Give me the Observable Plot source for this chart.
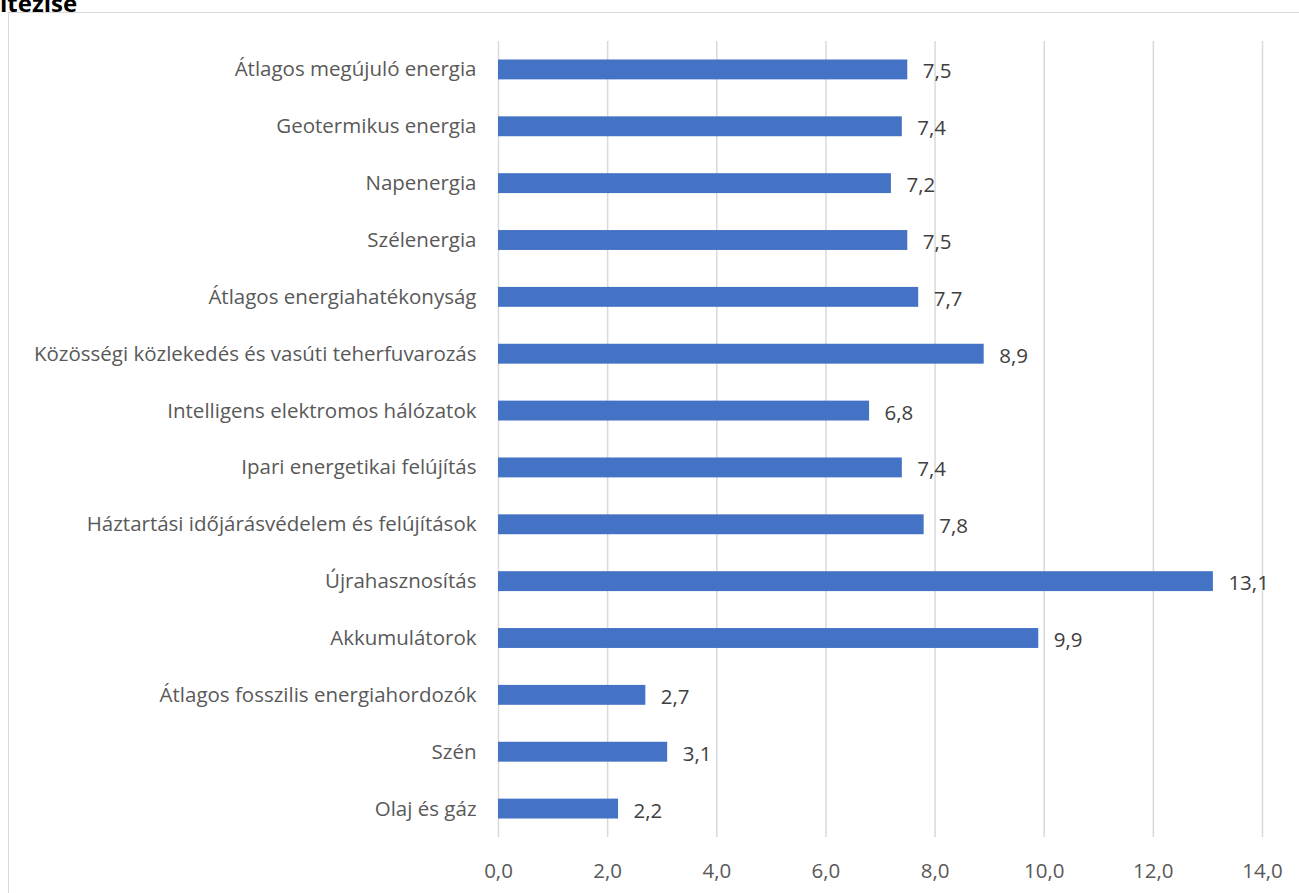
<!DOCTYPE html>
<html>
<head>
<meta charset="utf-8">
<script src="https://cdn.jsdelivr.net/npm/d3@7"></script>
<script src="https://cdn.jsdelivr.net/npm/@observablehq/plot@0.6"></script>
<style>
  html, body { margin: 0; padding: 0; background: #fff; }
  #wrap { position: relative; width: 1299px; height: 893px; overflow: hidden; font-family: "Open Sans", sans-serif; }
  #title { position: absolute; left: 0; top: -14px; font-size: 24px; font-weight: bold; color: #000; font-family: "Open Sans", sans-serif; }
  #frame { position: absolute; left: 8px; top: 12px; width: 1400px; height: 1000px; border: 1.5px solid #d9d9d9; box-sizing: border-box; }
  #chart { position: absolute; left: 0; top: 0; }
</style>
</head>
<body>
<div id="wrap">
  <div id="title">itezise</div>
  <div id="frame"></div>
  <div id="chart"></div>
</div>
<script>
const categories = [
  "Átlagos megújuló energia",
  "Geotermikus energia",
  "Napenergia",
  "Szélenergia",
  "Átlagos energiahatékonyság",
  "Közösségi közlekedés és vasúti teherfuvarozás",
  "Intelligens elektromos hálózatok",
  "Ipari energetikai felújítás",
  "Háztartási időjárásvédelem és felújítások",
  "Újrahasznosítás",
  "Akkumulátorok",
  "Átlagos fosszilis energiahordozók",
  "Szén",
  "Olaj és gáz"
];
const values = [7.5, 7.4, 7.2, 7.5, 7.7, 8.9, 6.8, 7.4, 7.8, 13.1, 9.9, 2.7, 3.1, 2.2];
const xTicks = [0, 2, 4, 6, 8, 10, 12, 14];

const data = categories.map((c, i) => ({category: c, value: values[i]}));
const fmt = v => d3.format(".1f")(v).replace(".", ",");

const chart = Plot.plot({
  width: 1299,
  height: 893,
  marginTop: 41,
  marginBottom: 56,
  marginLeft: 498,
  marginRight: 37,
  style: {fontFamily: "'Open Sans', sans-serif", fontSize: "20.5px", color: "#595959", background: "transparent"},
  x: {domain: [0, 14], ticks: xTicks, tickFormat: fmt, label: null, tickSize: 0, tickPadding: 25},
  y: {domain: categories, label: null, tickSize: 0, tickPadding: 22, paddingInner: 0.65, paddingOuter: 0.325, round: false},
  marks: [
    Plot.gridX(xTicks, {stroke: "#d9d9d9", strokeOpacity: 1, strokeWidth: 1.5}),
    Plot.barX(data, {x: "value", y: "category", fill: "#4472C4"}),
    Plot.text(data, {x: "value", y: "category", text: d => fmt(d.value), textAnchor: "start", dx: 15, dy: 2, fill: "#404040", fontSize: 20.5}),
    Plot.axisX({ticks: xTicks, tickFormat: fmt, tickSize: 0, tickPadding: 26, label: null, fill: "#595959"}),
    Plot.axisY({tickSize: 0, tickPadding: 22, label: null, fill: "#595959"})
  ]
});
document.getElementById("chart").appendChild(chart);
</script>
</body>
</html>
